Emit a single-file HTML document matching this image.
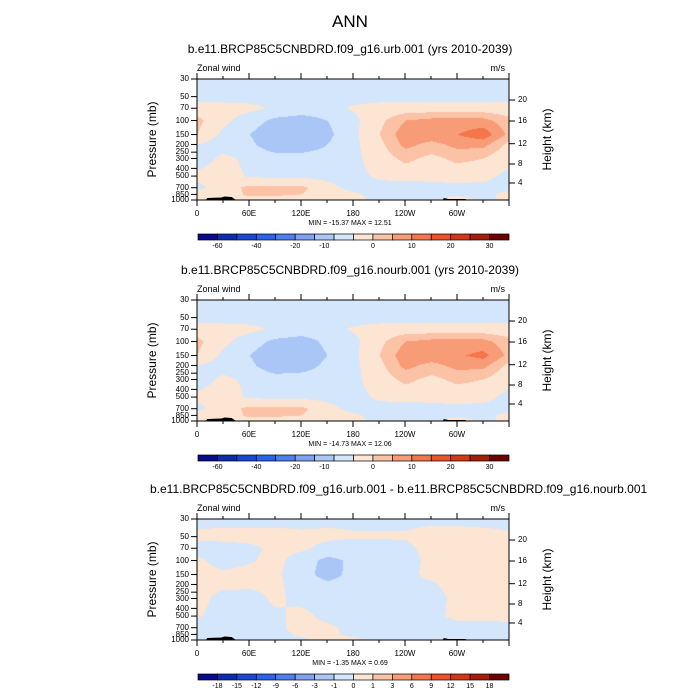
<!DOCTYPE html>
<html><head><meta charset="utf-8">
<style>
body{margin:0;background:#fff;}
#root{position:relative;width:700px;height:700px;overflow:hidden;background:#fff;font-family:"Liberation Sans",sans-serif;color:#000;}
.t{position:absolute;white-space:nowrap;}
</style></head>
<body>
<div id="root">
<div class="t" style="left:0;width:700px;text-align:center;top:12px;font-size:17px;">ANN</div>
</div>
<script>
// ---- data ----
const lons = [0,30,60,90,120,150,180,210,240,270,300,330,360];
const levels = [30,50,70,100,150,200,300,500,700,850,1000];
const urbWind = [
 [-2,-2,-2,-2,-2,-2,-2,-2,-2,-2,-2,-2,-2],
 [-1.5,-1.5,-1.5,-1.5,-1.5,-1.5,-1.5,-1.5,-1.5,-1.5,-1.5,-1.5,-1.5],
 [1.5,1.5,1,-0.5,-1.5,-1.5,0.5,1.5,2,2,2,2,1.5],
 [5,1,-2,-5,-6,-4,-1,3,7,8,8,8,5],
 [4,-1,-4,-7,-8,-5,-1,4,9,9,10,12,6],
 [0,-2,-3,-7,-7,-4,-1,3,8,6,8,8,3],
 [-2,1,-1,-2,-2,-2,-1,2,5,3,5,4,1],
 [1,2,-0.5,-1,-1,-1,-1,0.5,1.5,1,1.5,1,-1],
 [-1,2,5,5,5,1,-1,-1,-2,-1,-1,-1,-1],
 [2,1,5,5,4,2,0.5,-1,-2,-1,-1,-1,1],
 [3,3,2,1,1,0.5,1,-1,-3,-1,2,-1,1]];
const nourbWind = [
 [-2,-2,-2,-2,-2,-2,-2,-2,-2,-2,-2,-2,-2],
 [-1.5,-1.5,-1.5,-1.5,-1.5,-1.5,-1.5,-1.5,-1.5,-1.5,-1.5,-1.5,-1.5],
 [1.5,1.5,1,-0.5,-1.5,-1.5,0.5,1.5,2,2,2,2,1.5],
 [5,1,-2,-5,-6,-3,-1,3,7,8,8,8,5],
 [4,-1,-4,-7,-7,-4,-1,4,9,9,9.5,11,6],
 [0,-2,-3,-7,-6,-3,-1,3,8,6,8,8,3],
 [-2,1,-1,-2,-2,-2,-1,2,5,3,5,4,1],
 [1,2,-0.5,-1,-1,-1,-1,0.5,1.5,1,1.5,1,-1],
 [-1,2,5,5,5,1,-1,-1,-2,-1,-1,-1,-1],
 [2,1,5,5,4,2,0.5,-1,-2,-1,-1,-1,1],
 [3,3,2,1,1,0.5,1,-1,-3,-1,2,-1,1]];
const diffWind = [
 [-0.3,-0.3,-0.3,-0.3,-0.3,-0.2,-0.2,-0.2,-0.2,-0.2,-0.2,-0.2,-0.2],
 [0.2,0.3,0.3,0.3,0.2,0.2,0.1,0.1,0.1,0.3,0.3,0.2,0.1],
 [-0.4,-0.4,-0.2,0.2,0.2,-0.3,-0.5,-0.4,-0.2,0.3,0.3,0.3,0.3],
 [0.2,-0.4,-0.1,0.3,-0.5,-1.3,-0.8,-0.6,-0.3,0.2,0.3,0.3,0.3],
 [0.3,0.2,0.3,0.2,-0.6,-1.4,-0.7,-0.4,-0.2,0.2,0.3,0.3,0.3],
 [0.3,0.2,0.2,0.2,-0.4,-0.8,-0.6,-0.4,-0.3,-0.1,0.3,0.3,0.3],
 [0.3,-0.3,-0.4,0.2,-0.3,-0.5,-0.5,-0.4,-0.4,-0.3,0.2,0.3,0.3],
 [0.1,-0.4,-0.4,-0.2,0.3,-0.3,-0.5,-0.4,-0.3,-0.2,0.2,0.2,0.3],
 [-0.4,-0.4,-0.4,-0.2,0.3,0.2,-0.3,-0.4,-0.3,-0.3,-0.3,-0.3,-0.3],
 [-0.3,-0.3,-0.3,-0.2,0.1,0.2,-0.2,-0.3,-0.3,-0.3,-0.3,-0.3,-0.3],
 [-0.3,0.2,-0.3,-0.2,-0.1,0.2,0.2,-0.3,-0.3,-0.3,-0.3,-0.3,-0.3]];
const titles = ["b.e11.BRCP85C5CNBDRD.f09_g16.urb.001 (yrs 2010-2039)",
 "b.e11.BRCP85C5CNBDRD.f09_g16.nourb.001 (yrs 2010-2039)",
 "b.e11.BRCP85C5CNBDRD.f09_g16.urb.001 - b.e11.BRCP85C5CNBDRD.f09_g16.nourb.001"];
const minmax = ["MIN = -15.37  MAX =  12.51","MIN = -14.73  MAX =  12.06","MIN =  -1.35  MAX =   0.69"];
const pTicks = [30,50,70,100,150,200,250,300,400,500,700,850,1000];
const hTicks = [4,8,12,16,20];
const hTickY = [104,85,64.7,42,21];
const lonLabels = ["0","60E","120E","180","120W","60W"];
const barLabelsA = ["-60","-40","-20","-10","0","10","20","30"];
const barLabelPosA = [1,3,5,6.5,9,11,13,15];
const barLabelsB = ["-18","-15","-12","-9","-6","-3","-1","0","1","3","6","9","12","15","18"];
const barColors = ["#0a0a8c","#0b2bb0","#1a47d6","#2a62f0","#4f7fef","#7fa2f2","#a9c6f7","#d3e6fb","#fde5d3","#fbc2a6","#f89c78","#f5764a","#f0512a","#d83514","#a81d08","#700000"];
const threshA = [-10,-4,0,4,7,10];
const colorsA = ["#8fb0f5","#a9c6f7","#d3e6fb","#fde5d3","#fbc2a6","#f89c78","#f5764a"];
const threshB = [-1,0,1];
const colorsB = ["#a9c6f7","#d3e6fb","#fde5d3","#fbc2a6"];

const root = document.getElementById('root');
const X0=197, X1=509, PH=121;
const tops=[79,300,519];
function xOf(lon){return X0+(lon/360)*(X1-X0);}
function yOf(p){return Math.log10(p/30)/Math.log10(1000/30)*PH;}
function txt(s,x,y,size,name,align){
  const d=document.createElement('div');d.className='t';d.textContent=s;
  
  
  d.style.top=(y-size*0.6)+'px';d.style.fontSize=size+'px';
  if(align==='c'){d.style.left=(x-200)+'px';d.style.width='400px';d.style.textAlign='center';}
  else if(align==='r'){d.style.left=(x-200)+'px';d.style.width='200px';d.style.textAlign='right';}
  else d.style.left=x+'px';
  root.appendChild(d);return d;
}
function hex(c){return [parseInt(c.slice(1,3),16),parseInt(c.slice(3,5),16),parseInt(c.slice(5,7),16)];}
function sample(grid,lon,y){
  const ly=levels.map(yOf);
  let j=0;while(j<levels.length-2&&y>ly[j+1])j++;
  let fy=(y-ly[j])/(ly[j+1]-ly[j]);fy=Math.max(0,Math.min(1,fy));
  let i=Math.min(lons.length-2,Math.floor(lon/30));let fx=(lon-lons[i])/30;
  const a=grid[j][i]*(1-fx)+grid[j][i+1]*fx, b=grid[j+1][i]*(1-fx)+grid[j+1][i+1]*fx;
  return a*(1-fy)+b*fy;
}
const NS='http://www.w3.org/2000/svg';
function panel(k,grid,thresh,cols,barLabels,barPos){
  const top=tops[k];
  txt(titles[k],350,top-30,12,'panel-title-'+(k+1),'c');
  txt('Zonal wind',X0,top-11,9,'variable-label','l');
  txt('m/s',505,top-11,9,'units-label','r');
  const cv=document.createElement('canvas');cv.width=X1-X0;cv.height=PH;
  
  
  cv.style.cssText='position:absolute;left:'+X0+'px;top:'+top+'px;';
  root.appendChild(cv);
  const ctx=cv.getContext('2d');const img=ctx.createImageData(cv.width,PH);
  const rgb=cols.map(hex);
  for(let y=0;y<PH;y++)for(let x=0;x<cv.width;x++){
    const v=sample(grid,x/(cv.width)*360,y+0.5);
    let c=0;while(c<thresh.length&&v>=thresh[c])c++;
    const o=(y*cv.width+x)*4;img.data[o]=rgb[c][0];img.data[o+1]=rgb[c][1];img.data[o+2]=rgb[c][2];img.data[o+3]=255;
  }
  ctx.putImageData(img,0,0);
  const svg=document.createElementNS(NS,'svg');
  
  
  svg.setAttribute('width',700);svg.setAttribute('height',700);
  svg.style.cssText='position:absolute;left:0;top:0;';
  let s='';
  s+=`<path d="M${xOf(10)} ${top+PH} L${xOf(12)} ${top+PH-2} L${xOf(28)} ${top+PH-2.5} L${xOf(32)} ${top+PH-3.5} L${xOf(40)} ${top+PH-3} L${xOf(45)} ${top+PH} Z" fill="#000"/>`;
  s+=`<path d="M${xOf(283)} ${top+PH} L${xOf(285)} ${top+PH-2} L${xOf(290)} ${top+PH-1} L${xOf(310)} ${top+PH-1} L${xOf(311)} ${top+PH} Z" fill="#000"/>`;
  s+=`<rect x="${X0}" y="${top}" width="${X1-X0}" height="${PH}" fill="none" stroke="#000" stroke-width="1"/>`;
  for(let l=0;l<=360;l+=30){const x=xOf(l);const L=(l%60===0)?6:3;
    s+=`<line x1="${x}" y1="${top}" x2="${x}" y2="${top-L}" stroke="#000"/><line x1="${x}" y1="${top+PH}" x2="${x}" y2="${top+PH+L}" stroke="#000"/>`;}
  pTicks.forEach(p=>{const y=top+yOf(p);s+=`<line x1="${X0}" y1="${y}" x2="${X0-6}" y2="${y}" stroke="#000"/>`;});
  hTickY.forEach(h=>{s+=`<line x1="${X1}" y1="${top+h}" x2="${X1+6}" y2="${top+h}" stroke="#000"/>`;});
  s+=`<text x="156" y="${top+PH/2}" font-size="12" text-anchor="middle" transform="rotate(-90 156 ${top+PH/2})" font-family="Liberation Sans">Pressure (mb)</text>`;
  s+=`<text x="551" y="${top+PH/2}" font-size="12" text-anchor="middle" transform="rotate(-90 551 ${top+PH/2})" font-family="Liberation Sans">Height (km)</text>`;
  const by=top+PH+34, bw=(X1-X0-1)/16;
  barColors.forEach((c,i)=>{s+=`<rect x="${198+i*bw}" y="${by}" width="${bw}" height="6" fill="${c}" stroke="#000" stroke-width="0.7"/>`;});
  svg.innerHTML=s;root.appendChild(svg);
  pTicks.forEach(p=>txt(String(p),189,top+yOf(p),8,'pressure-tick-label','r'));
  hTicks.forEach((h,i)=>txt(String(h),518,top+hTickY[i],8,'height-tick-label','l'));
  lonLabels.forEach((l,i)=>txt(l,xOf(i*60),top+PH+14,8,'longitude-tick-label','c'));
  txt(minmax[k],350,top+PH+24,7,'min-max-label','c');
  barLabels.forEach((l,i)=>txt(l,198+barPos[i]*bw,by+13,7,'colorbar-label','c'));
}
panel(0,urbWind,threshA,colorsA,barLabelsA,barLabelPosA);
panel(1,nourbWind,threshA,colorsA,barLabelsA,barLabelPosA);
panel(2,diffWind,threshB,colorsB,barLabelsB,barLabelsB.map((_,i)=>i+1));
</script>
</body></html>
